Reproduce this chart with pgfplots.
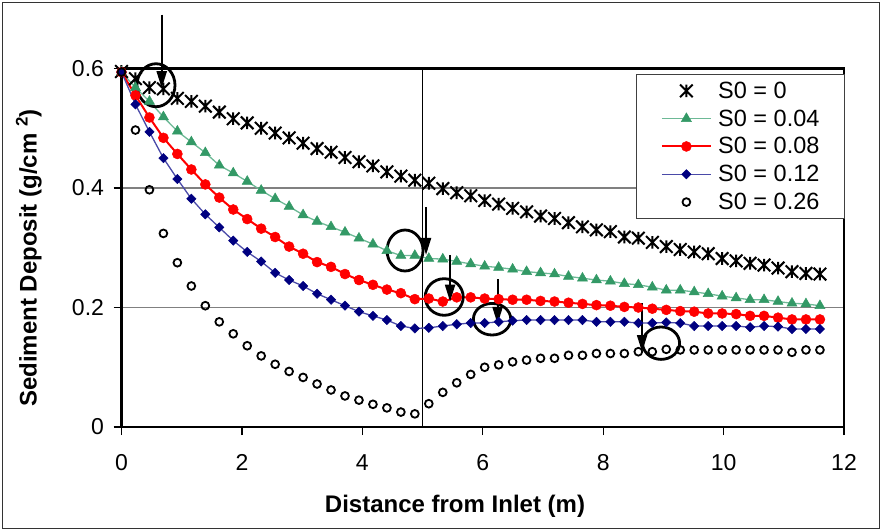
\documentclass[border=0pt]{standalone}
\usepackage{fontspec}
\setmainfont{Liberation Sans}
\usepackage{pgfplots}
\pgfplotsset{compat=1.18}
\usepackage{pgfplotstable}
\usetikzlibrary{arrows.meta}

\definecolor{seagrn}{HTML}{339966}
\definecolor{seagrnline}{HTML}{6DB996}
\definecolor{navymark}{HTML}{000080}
\definecolor{navyline}{HTML}{4A4AA8}
\definecolor{gridgray}{HTML}{808080}

% spreadsheet-style star: an X crossed by a vertical bar
\pgfdeclareplotmark{xlstar}{%
  \pgfpathmoveto{\pgfqpoint{-\pgfplotmarksize}{-\pgfplotmarksize}}%
  \pgfpathlineto{\pgfqpoint{\pgfplotmarksize}{\pgfplotmarksize}}%
  \pgfpathmoveto{\pgfqpoint{-\pgfplotmarksize}{\pgfplotmarksize}}%
  \pgfpathlineto{\pgfqpoint{\pgfplotmarksize}{-\pgfplotmarksize}}%
  \pgfpathmoveto{\pgfqpoint{0pt}{-\pgfplotmarksize}}%
  \pgfpathlineto{\pgfqpoint{0pt}{\pgfplotmarksize}}%
  \pgfusepathqstroke}

\pgfplotsset{legline/.style={legend image code/.code={%
  \draw[mark repeat=2,mark phase=2,##1] plot coordinates {(0pt,0pt) (24.5pt,0pt) (49pt,0pt)};}}}

% sediment deposit (g/cm^2) along the channel for five bed slopes S0
\pgfplotstableread{
x      s0     s4     s8     s12    s26
0      0.595  0.594  0.594  0.594  0.594
0.232  0.583  0.568  0.555  0.540  0.497
0.464  0.568  0.545  0.518  0.494  0.397
0.696  0.566  0.519  0.484  0.450  0.324
0.928  0.550  0.495  0.457  0.415  0.275
1.160  0.545  0.477  0.431  0.382  0.236
1.392  0.537  0.459  0.406  0.356  0.203
1.624  0.527  0.438  0.384  0.334  0.176
1.856  0.516  0.425  0.364  0.312  0.156
2.088  0.509  0.411  0.348  0.293  0.136
2.320  0.500  0.396  0.332  0.277  0.119
2.552  0.492  0.382  0.318  0.258  0.105
2.784  0.484  0.369  0.302  0.246  0.093
3.016  0.475  0.355  0.290  0.236  0.083
3.248  0.466  0.344  0.276  0.223  0.072
3.480  0.460  0.335  0.268  0.213  0.062
3.712  0.451  0.326  0.256  0.203  0.052
3.944  0.444  0.316  0.246  0.193  0.045
4.176  0.437  0.306  0.238  0.186  0.038
4.408  0.427  0.295  0.230  0.179  0.032
4.640  0.420  0.287  0.224  0.169  0.025
4.872  0.413  0.287  0.214  0.165  0.022
5.104  0.408  0.282  0.215  0.166  0.039
5.336  0.399  0.281  0.210  0.169  0.058
5.568  0.392  0.277  0.217  0.172  0.074
5.800  0.387  0.273  0.217  0.174  0.088
6.032  0.379  0.269  0.215  0.174  0.100
6.264  0.373  0.267  0.214  0.176  0.104
6.496  0.366  0.264  0.213  0.178  0.109
6.728  0.360  0.260  0.213  0.179  0.112
6.960  0.353  0.258  0.211  0.179  0.115
7.192  0.349  0.256  0.210  0.179  0.115
7.424  0.342  0.252  0.208  0.179  0.120
7.656  0.335  0.249  0.206  0.179  0.120
7.888  0.330  0.246  0.204  0.176  0.123
8.120  0.327  0.244  0.203  0.176  0.123
8.352  0.318  0.240  0.201  0.176  0.123
8.584  0.316  0.238  0.200  0.174  0.126
8.816  0.309  0.234  0.198  0.174  0.126
9.048  0.302  0.229  0.196  0.175  0.130
9.280  0.297  0.229  0.194  0.174  0.129
9.512  0.293  0.226  0.193  0.169  0.129
9.744  0.290  0.223  0.190  0.169  0.129
9.976  0.282  0.219  0.190  0.169  0.129
10.208 0.278  0.216  0.189  0.169  0.129
10.440 0.274  0.213  0.186  0.167  0.129
10.672 0.271  0.213  0.186  0.169  0.129
10.904 0.266  0.210  0.183  0.168  0.129
11.136 0.260  0.207  0.180  0.164  0.125
11.368 0.257  0.206  0.180  0.164  0.129
11.600 0.256  0.203  0.180  0.164  0.129
}\deposit

\begin{document}
\begin{tikzpicture}
\path[use as bounding box] (-121.5pt,-104pt) rectangle (760.5pt,427pt);
\begin{axis}[
  at={(0pt,0pt)}, anchor=south west,
  scale only axis, width=722.5pt, height=358.5pt,
  xmin=0, xmax=12, ymin=0, ymax=0.6,
  xtick={0,2,...,12}, ytick={0,0.2,0.4,0.6},
  tick pos=left, tick align=outside, major tick length=8pt,
  tick style={black, line width=1.2pt},
  axis line style={black, line width=2.2pt},
  ymajorgrids, grid style={gridgray, line width=1.2pt},
  /pgf/number format/assume math mode=true,
  ticklabel style={font=\fontsize{23}{26}\selectfont},
  xticklabel style={yshift=-16pt},
  yticklabel style={xshift=-6pt, /pgf/number format/fixed, /pgf/number format/precision=1},
  xlabel={\bfseries Distance from Inlet (m)},
  xlabel style={at={(axis description cs:0.4616,-0.2371)}, anchor=base,
    font=\fontsize{24}{28}\selectfont},
  ylabel={\bfseries Sediment Deposit (g/cm \textsuperscript{2})},
  ylabel style={at={(axis description cs:-0.1174,0.4714)}, anchor=base,
    font=\fontsize{24}{28}\selectfont},
  clip=false,
  legend style={at={(axis description cs:0.7121,0.9847)}, anchor=north west,
    draw=black!75, line width=0.8pt, fill=white,
    font=\fontsize{23.5}{26}\selectfont,
    inner xsep=24.5pt, inner ysep=5.5pt, row sep=5.9pt, column sep=6.3pt,
    nodes={inner xsep=0pt, inner ysep=2pt, text depth=0.15em}},
  legend cell align=left,
]
% reference line at the 5 m section
\draw[black, line width=1.8pt] (axis cs:5,0) -- (axis cs:5,0.6);

\addplot[only marks, mark=xlstar, mark size=6.3pt, line width=2pt, black, legline]
  table[x=x, y=s0] {\deposit};
\addlegendentry{S0 = 0}
\addplot[seagrnline, line width=1.3pt, mark=triangle*, mark size=5.8pt,
  mark options={draw=seagrn, fill=seagrn, line width=0.5pt}, legline]
  table[x=x, y=s4] {\deposit};
\addlegendentry{S0 = 0.04}
\addplot[red, line width=2pt, mark=*, mark size=5pt,
  mark options={draw=red, fill=red, line width=0.5pt}, legline]
  table[x=x, y=s8] {\deposit};
\addlegendentry{S0 = 0.08}
\addplot[navyline, line width=1.3pt, mark=square*, mark size=3.3pt,
  mark options={rotate=45, draw=navymark, fill=navymark, line width=0.5pt}, legline]
  table[x=x, y=s12] {\deposit};
\addlegendentry{S0 = 0.12}
\addplot[only marks, mark=o, mark size=3.9pt, line width=1.8pt, black, legline]
  table[x=x, y=s26] {\deposit};
\addlegendentry{S0 = 0.26}

% callouts: rings and arrows
\begin{scope}[line width=2.8pt]
  \draw (axis cs:0.573,0.572) ellipse [x radius=19pt, y radius=21.5pt];
  \draw (axis cs:4.709,0.2954) ellipse [x radius=18pt, y radius=20.5pt];
  \draw (axis cs:5.36,0.2176) ellipse [x radius=19pt, y radius=18.3pt];
  \draw (axis cs:6.155,0.1804) ellipse [x radius=18.7pt, y radius=15.8pt];
  \draw (axis cs:8.962,0.1403) ellipse [x radius=18.5pt, y radius=16.2pt];
\end{scope}
\begin{scope}[line width=2pt, -{Triangle[length=17pt, width=10pt]}]
  \draw (axis cs:0.668,0.690) -- (axis cs:0.668,0.567);
  \draw (axis cs:5.058,0.3677) -- (axis cs:5.058,0.288);
  \draw (axis cs:5.457,0.288) -- (axis cs:5.457,0.2097);
  \draw (axis cs:6.246,0.247) -- (axis cs:6.246,0.1724);
  \draw (axis cs:8.646,0.207) -- (axis cs:8.646,0.1255);
\end{scope}
\end{axis}
\draw[line width=1.5pt, black!80] (-119pt,-101.5pt) rectangle (758pt,424.5pt);
\end{tikzpicture}
\end{document}
